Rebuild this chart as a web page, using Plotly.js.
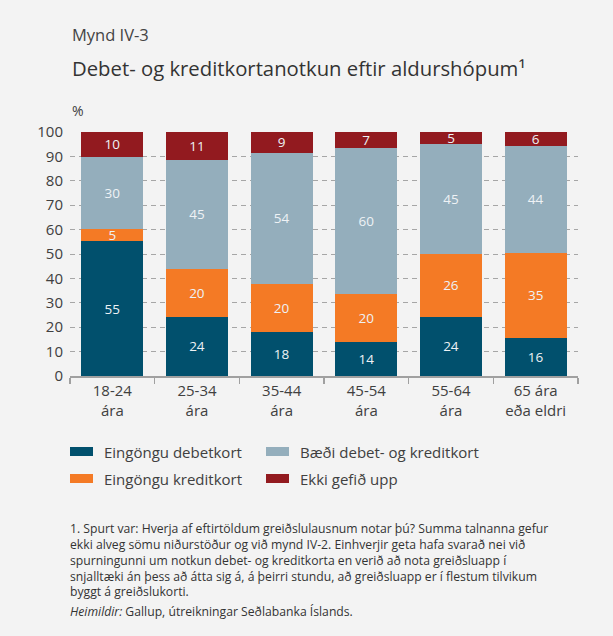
<!DOCTYPE html>
<html>
<head>
<meta charset="utf-8">
<script src="https://cdn.plot.ly/plotly-3.0.1.min.js"></script>
<style>
  body { margin: 0; background: #f3f3f3; }
  #plot { width: 613px; height: 636px; }
</style>
</head>
<body>
<div id="plot"></div>
<script>
// aldurshópar
var groups = ["18-24<br>ára", "25-34<br>ára", "35-44<br>ára", "45-54<br>ára", "55-64<br>ára", "65 ára<br>eða eldri"];

// hlutföll, % (lesin af myndinni)
var debetOnly  = [55.3, 24.2, 17.9, 13.9, 24.2, 15.6];
var kreditOnly = [4.9, 19.7, 19.8, 19.6, 25.8, 34.8];
var both       = [29.7, 44.7, 53.7, 59.9, 45.1, 43.9];
var noAnswer   = [10.1, 11.4, 8.6, 6.6, 4.9, 5.7];

var names = ["Eingöngu debetkort", "Eingöngu kreditkort", "Bæði debet- og kreditkort", "Ekki gefið upp"];
var colors = ["#01506d", "#f47a25", "#94aebc", "#921a1f"];
var series = [debetOnly, kreditOnly, both, noAnswer];

var footnote = [
  "1. Spurt var: Hverja af eftirtöldum greiðslulausnum notar þú? Summa talnanna gefur",
  "ekki alveg sömu niðurstöður og við mynd IV-2. Einhverjir geta hafa svarað nei við",
  "spurningunni um notkun debet- og kreditkorta en verið að nota greiðsluapp í",
  "snjalltæki án þess að átta sig á, á þeirri stundu, að greiðsluapp er í flestum tilvikum",
  "byggt á greiðslukorti."
];
var source = "<i>Heimildir:</i> Gallup, útreikningar Seðlabanka Íslands.";

// plot area in page pixels: x 70..578, y 132..376
var L = 70, W = 508, T = 132, H = 244;
function px(x) { return (x - L) / W; }
function py(y) { return (T + H - y) / H; }

var traces = series.map(function(vals, i) {
  return {
    x: groups,
    y: vals,
    name: names[i],
    type: "bar",
    marker: { color: colors[i] },
    texttemplate: "%{y:.0f}",
    textposition: "inside",
    insidetextanchor: "middle",
    textangle: 0,
    constraintext: "none",
    textfont: { family: "Open Sans", size: 13.5, color: "#eef2f5" },
    hoverinfo: "none",
    showlegend: false
  };
});

var annotations = [
  { text: "Mynd IV-3", xref: "paper", yref: "paper", x: 0, y: py(34), xanchor: "left", yanchor: "middle",
    showarrow: false, font: { size: 16.5, color: "#444444" } },
  { text: "Debet- og kreditkortanotkun eftir aldurshópum¹", xref: "paper", yref: "paper",
    x: 0, y: py(68), xanchor: "left", yanchor: "middle", showarrow: false,
    font: { size: 20.3, color: "#333333" } },
  { text: "%", xref: "paper", yref: "paper", x: 0, y: py(110), xanchor: "left", yanchor: "middle",
    showarrow: false, font: { size: 14, color: "#404040" } },
  { text: footnote.join("<br>"), xref: "paper", yref: "paper", x: px(68), y: py(559.5),
    xanchor: "left", yanchor: "middle", align: "left", showarrow: false,
    font: { size: 12.2, color: "#333333" } },
  { text: source, xref: "paper", yref: "paper", x: px(68), y: py(611),
    xanchor: "left", yanchor: "middle", showarrow: false, font: { size: 12.2, color: "#333333" } }
];

// legend: two columns, debet / bæði on top, kredit / ekki below
var legendSlots = [[70, 451.5], [70, 478.5], [266, 451.5], [266, 478.5]];
var shapes = [];
names.forEach(function(n, i) {
  var s = legendSlots[i];
  shapes.push({ type: "rect", xref: "paper", yref: "paper", x0: px(s[0]), x1: px(s[0] + 23),
    y0: py(s[1] - 4.5), y1: py(s[1] + 4.5), fillcolor: colors[i], line: { width: 0 } });
  annotations.push({ text: n, xref: "paper", yref: "paper", x: px(s[0] + 32), y: py(s[1]),
    xanchor: "left", yanchor: "middle", showarrow: false, font: { size: 15, color: "#404040" } });
});

var layout = {
  width: 613,
  height: 636,
  barmode: "stack",
  bargap: 0.27,
  paper_bgcolor: "#f3f3f3",
  plot_bgcolor: "#f3f3f3",
  font: { family: "Open Sans", color: "#404040" },
  margin: { l: L, r: 613 - L - W, t: T, b: 636 - T - H },
  showlegend: false,
  xaxis: {
    type: "category",
    tickson: "boundaries",
    ticks: "outside",
    ticklen: 6,
    tickcolor: "#a0a0a0",
    tickwidth: 1.5,
    showline: true,
    linecolor: "#a0a0a0",
    linewidth: 2,
    tickfont: { size: 15, color: "#404040" },
    fixedrange: true
  },
  yaxis: {
    range: [0, 100],
    dtick: 10,
    showgrid: true,
    gridcolor: "#a6a6a6",
    griddash: "5px,4px",
    gridwidth: 1,
    zeroline: false,
    ticks: "",
    ticklabelstandoff: 6,
    tickfont: { size: 15, color: "#404040" },
    fixedrange: true
  },
  shapes: shapes,
  annotations: annotations
};

Plotly.newPlot("plot", traces, layout, { displayModeBar: false, staticPlot: true });
</script>
</body>
</html>
